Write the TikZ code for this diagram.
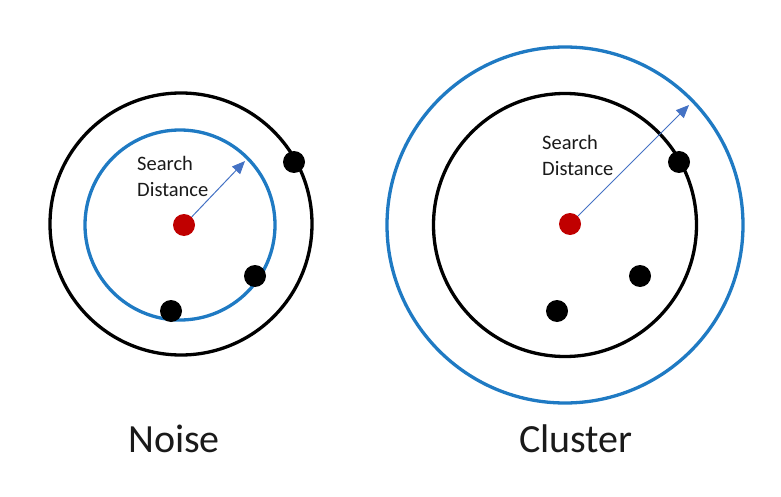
\documentclass[tikz,border=0pt]{standalone}
\usepackage{fontspec}
\setmainfont{Carlito}
\usetikzlibrary{arrows.meta}
\definecolor{ringblue}{HTML}{1F7AC3}
\definecolor{arrowblue}{HTML}{4472C4}
\definecolor{dotred}{HTML}{C00000}
\definecolor{textdark}{HTML}{1A1A1A}
\tikzset{
  ringblack/.style={circle,draw=black,line width=3.3pt,inner sep=0pt},
  ringblu/.style={circle,draw=ringblue,line width=3.3pt,inner sep=0pt},
  pointdot/.style={circle,fill=black,minimum size=22pt,inner sep=0pt},
  centerdot/.style={circle,fill=dotred,minimum size=22pt,inner sep=0pt},
  radiusarrow/.style={draw=arrowblue,line width=1pt,-{Triangle[length=13pt,width=11pt]}},
  smalltext/.style={anchor=west,align=left,inner sep=0pt,text=textdark,font=\fontsize{20.5}{26}\selectfont},
  bigtext/.style={anchor=base,inner sep=0pt,text=textdark,font=\fontsize{40}{46}\selectfont}
}
\begin{document}
\begin{tikzpicture}[x=1pt,y=-1pt]
\useasboundingbox (0,0) rectangle (781,497);
% Noise
\node[ringblack,minimum size=262pt] (nout) at (181,224) {};
\node[ringblu,minimum size=190pt] (nin) at (180,225) {};
\node[centerdot] (nc) at (184,225) {};
\node[pointdot] (n1) at (294,162) {};
\node[pointdot] (n2) at (255,276) {};
\node[pointdot] (n3) at (171,311) {};
\coordinate (ntip) at (245,161);
\draw[radiusarrow] (nc) -- (ntip);
\node[smalltext] (nlab) at (137,176) {Search\\Distance};
\node[bigtext] (noise) at (174,452) {Noise};
% Cluster
\node[ringblu,minimum size=356pt] (cout) at (565,225) {};
\node[ringblack,minimum size=263pt] (cin) at (565,225) {};
\node[centerdot] (cc) at (570,224) {};
\node[pointdot] (c1) at (679,162) {};
\node[pointdot] (c2) at (640,276) {};
\node[pointdot] (c3) at (557,311) {};
\coordinate (ctip) at (689,105);
\draw[radiusarrow] (cc) -- (ctip);
\node[smalltext] (clab) at (542,155) {Search\\Distance};
\node[bigtext] (cluster) at (576,452) {Cluster};
\end{tikzpicture}
\end{document}
